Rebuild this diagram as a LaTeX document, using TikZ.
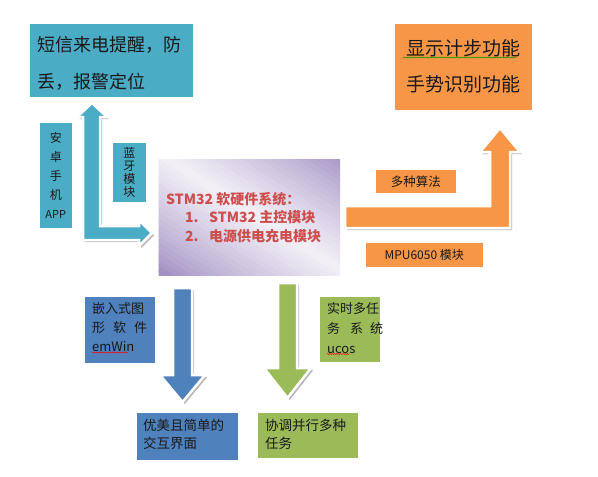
\documentclass[tikz,border=0pt]{standalone}
\usepackage{fontspec}
\setmainfont{Noto Sans CJK SC}
\usetikzlibrary{shadows,decorations.pathmorphing}
\definecolor{teal1}{RGB}{75,172,198}
\definecolor{orange1}{RGB}{247,150,70}
\definecolor{blue1}{RGB}{79,129,189}
\definecolor{green1}{RGB}{155,187,89}
\definecolor{purD}{RGB}{160,140,194}
\definecolor{purL}{RGB}{243,240,247}
\definecolor{redT}{RGB}{205,78,76}
\definecolor{txt}{RGB}{25,25,25}
\tikzset{
  shd/.style={drop shadow={shadow xshift=2.2pt,shadow yshift=-2.2pt,fill=black,opacity=0.28}},
  boxbase/.style={shd, draw=white, line width=2.5pt, anchor=north west, inner sep=0pt, text=txt, align=center},
  tealbox/.style={boxbase, fill=teal1},
  orangebox/.style={boxbase, fill=orange1},
  bluebox/.style={boxbase, fill=blue1},
  greenbox/.style={boxbase, fill=green1},
  purplebox/.style={boxbase, fill=purD},
  blockarrow/.style={shd, draw=white, line width=2.5pt},
  lbl/.style={anchor=west, align=left, inner sep=0pt, text=txt},
  squig/.style={decorate, decoration={snake, amplitude=0.5pt, segment length=2.2pt}, line width=0.45pt},
}
\begin{document}
\begin{tikzpicture}[x=1pt,y=-1pt]
\useasboundingbox[fill=white] (0,0) rectangle (598,477);

% block arrows
\path[blockarrow, fill=teal1] (92,103) -- (107,117) -- (100,117) -- (100,226) -- (139,226) -- (139,220) -- (152,233) -- (139,246) -- (139,240) -- (83,240) -- (83,117) -- (77,117) -- cycle;
\path[blockarrow, fill=orange1] (345,206) -- (490,206) -- (490,152) -- (480,152) -- (500,128) -- (520,152) -- (510,152) -- (510,228) -- (345,228) -- cycle;
\path[blockarrow, fill=blue1] (173,288) -- (192,288) -- (192,375) -- (205,375) -- (182.5,402) -- (160,375) -- (173,375) -- cycle;
\path[blockarrow, fill=green1] (278,283) -- (297,283) -- (297,368) -- (311,368) -- (287.5,398) -- (264,368) -- (278,368) -- cycle;

% boxes
\node[tealbox, minimum width=166pt, minimum height=76pt] (sms) at (27,21) {};
\node[lbl, font=\fontsize{18}{37}\selectfont] (smst) at (37,63.5) {短信来电提醒，防\\丢，报警定位};

\node[tealbox, minimum width=35pt, minimum height=108pt, font=\fontsize{12}{19}\selectfont] (app) at (37,120) {安\\卓\\手\\机\\{\fontsize{11}{19}\selectfont APP}};
\node[tealbox, minimum width=36pt, minimum height=62pt, font=\fontsize{12}{12.8}\selectfont] (bt) at (110,140) {蓝\\牙\\模\\块};

\node[purplebox, minimum width=184pt, minimum height=118pt] (stm) at (156,157) {};
\begin{scope}
  \clip ([shift={(2.5,2.5)}]stm.north west) rectangle ([shift={(-2.5,-2.5)}]stm.south east);
  \foreach \i in {0,...,39}{
    \pgfmathsetmacro\a{-1+\i*0.05}
    \pgfmathsetmacro\b{\a+0.06}
    \pgfmathsetmacro\m{min(abs(\a+0.025-0.05),0.99)}
    \pgfmathsetmacro\pct{100*pow(1-\m,0.8)}
    \fill[purL!\pct!purD] (157+184*\a-184,158-118) -- (157+184*\a+368,158+236) -- (157+184*\b+368,158+236) -- (157+184*\b-184,158-118) -- cycle;
  }
\end{scope}
\node[lbl, text=redT, font=\fontsize{14}{18.5}\selectfont\bfseries] (stmt) at (166,217.5) {STM32 软硬件系统：\\\hspace*{19pt}\makebox[24pt][l]{1.}STM32 主控模块\\\hspace*{19pt}\makebox[24pt][l]{2.}电源供电充电模块};

\node[orangebox, minimum width=140pt, minimum height=89pt, font=\fontsize{19}{36}\selectfont] (disp) at (392,21) {显示计步功能\\手势识别功能};
\node[orangebox, minimum width=83pt, minimum height=26pt, font=\fontsize{12.5}{15}\selectfont] (algo) at (373,167) {多种算法};
\node[orangebox, minimum width=120pt, minimum height=27pt, font=\fontsize{12}{15}\selectfont] (mpu) at (363,240) {MPU6050 模块};

\node[bluebox, minimum width=73pt, minimum height=69pt] (emwin) at (82,294) {};
\node[lbl, font=\fontsize{13}{19}\selectfont] (emwint) at (92,327) {嵌入式图\\形\hspace{8pt}软\hspace{8pt}件\\emWin};
\node[bluebox, minimum width=104pt, minimum height=50pt] (ui) at (134,410) {};
\node[lbl, font=\fontsize{13.5}{18}\selectfont] (uit) at (143,434) {优美且简单的\\交互界面};

\node[greenbox, minimum width=63pt, minimum height=68pt] (ucos) at (317,294) {};
\node[lbl, font=\fontsize{13}{20}\selectfont] (ucost) at (327,328) {实时多任\\务\hspace{10pt}系\hspace{7pt}统\\ucos};
\node[greenbox, minimum width=103pt, minimum height=48pt] (task) at (255,410) {};
\node[lbl, font=\fontsize{13.5}{18}\selectfont] (taskt) at (265,434) {协调并行多种\\任务};

% spell-check squiggles
\draw[squig, red] (92,352.5) -- (128,352.5);
\draw[squig, red] (327,354) -- (350,354);
\draw[squig, green!60!black] (403,57.5) -- (516,57.5);
\end{tikzpicture}
\end{document}
